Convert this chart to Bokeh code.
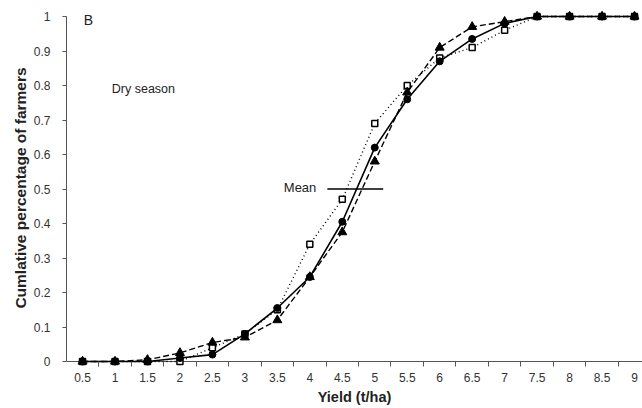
from bokeh.plotting import figure
from bokeh.models import FixedTicker, Range1d, Label, ColumnDataSource, Span
from bokeh.embed import file_html
from bokeh.resources import INLINE

yield_cats = [0.5, 1, 1.5, 2, 2.5, 3, 3.5, 4, 4.5, 5, 5.5, 6, 6.5, 7, 7.5, 8, 8.5, 9]
series_circle = [0, 0, 0, 0.01, 0.02, 0.08, 0.155, 0.245, 0.405, 0.62, 0.76, 0.87, 0.935, 0.98, 1, 1, 1, 1]
series_triangle = [0, 0, 0.005, 0.025, 0.055, 0.07, 0.12, 0.245, 0.375, 0.58, 0.78, 0.91, 0.97, 0.985, 1, 1, 1, 1]
series_square = [0, 0, 0, 0, 0.04, 0.08, 0.15, 0.34, 0.47, 0.69, 0.80, 0.88, 0.91, 0.96, 1, 1, 1, 1]
mean_x = [4.27, 5.13]
mean_y = [0.5, 0.5]
y_ticks = [0, 0.1, 0.2, 0.3, 0.4, 0.5, 0.6, 0.7, 0.8, 0.9, 1]

FONT = "Liberation Sans"

# y=0 at pixel 361, y=1 at pixel 16 (345 px per unit); frame 9..366
p = figure(width=642, height=408, output_backend="svg", toolbar_location=None,
           x_range=Range1d(0.253, 9.123), y_range=Range1d(-5 / 345, 1 + 7 / 345),
           min_border_left=66, min_border_right=0, min_border_top=9, min_border_bottom=42)
p.outline_line_color = None
p.xgrid.visible = False
p.ygrid.visible = False

zero_line = Span(location=0, dimension="width", line_color="#555555", line_width=1, level="underlay")
p.add_layout(zero_line)

src = ColumnDataSource(dict(x=yield_cats, c=series_circle, t=series_triangle, s=series_square))

p.line("x", "s", source=src, line_color="black", line_width=1.4, line_dash="1 3")
p.line("x", "t", source=src, line_color="black", line_width=1.4, line_dash="6 3")
p.line("x", "c", source=src, line_color="black", line_width=1.6)
p.line(mean_x, mean_y, line_color="black", line_width=1.6)
p.scatter("x", "s", source=src, marker="square", size=6, fill_color="white", line_color="black", line_width=1.5)
p.scatter("x", "t", source=src, marker="triangle", size=9, fill_color="black", line_color="black")
p.scatter("x", "c", source=src, marker="circle", size=7, fill_color="black", line_color="black")

# axes
xa = p.xaxis[0]
xa.ticker = FixedTicker(ticks=yield_cats, minor_ticks=[0.25 + 0.5 * i for i in range(0, 19)])
xa.major_label_overrides = {v: ("%g" % v) for v in yield_cats}
xa.major_tick_line_color = None
xa.minor_tick_out = 0
xa.minor_tick_in = 5
xa.minor_tick_line_color = "#555555"
xa.axis_line_color = None
xa.major_label_text_font = FONT
xa.major_label_text_font_size = "12px"
xa.major_label_text_color = "#333333"
xa.major_label_standoff = 0
xa.axis_label = "Yield (t/ha)"
xa.axis_label_text_font = FONT
xa.axis_label_text_font_style = "bold"
xa.axis_label_text_font_size = "14.5px"
xa.axis_label_text_color = "#222222"
xa.axis_label_standoff = 4

ya = p.yaxis[0]
ya.bounds = (0, 1)
ya.ticker = FixedTicker(ticks=y_ticks)
ya.major_label_overrides = {0: "0", 1: "1"}
ya.minor_tick_line_color = None
ya.major_tick_out = 4
ya.major_tick_in = 0
ya.major_tick_line_color = "#555555"
ya.axis_line_color = "#555555"
ya.major_label_text_font = FONT
ya.major_label_text_font_size = "12px"
ya.major_label_text_color = "#333333"
ya.major_label_standoff = 12
ya.axis_label = "Cumlative percentage of farmers"
ya.axis_label_text_font = FONT
ya.axis_label_text_font_style = "bold"
ya.axis_label_text_font_size = "15.5px"
ya.axis_label_text_color = "#222222"
ya.axis_label_standoff = 2

p.add_layout(Label(x=0.52, y=0.99, text="B", text_font=FONT, text_font_size="14px",
                   text_color="#222222", text_baseline="middle"))
p.add_layout(Label(x=0.95, y=0.791, text="Dry season", text_font=FONT, text_font_size="12.5px",
                   text_color="#222222", text_baseline="middle"))
p.add_layout(Label(x=4.1, y=0.505, text="Mean", text_font=FONT, text_font_size="13px",
                   text_color="#222222", text_baseline="middle", text_align="right"))

open("out.html", "w").write(file_html(p, INLINE))
